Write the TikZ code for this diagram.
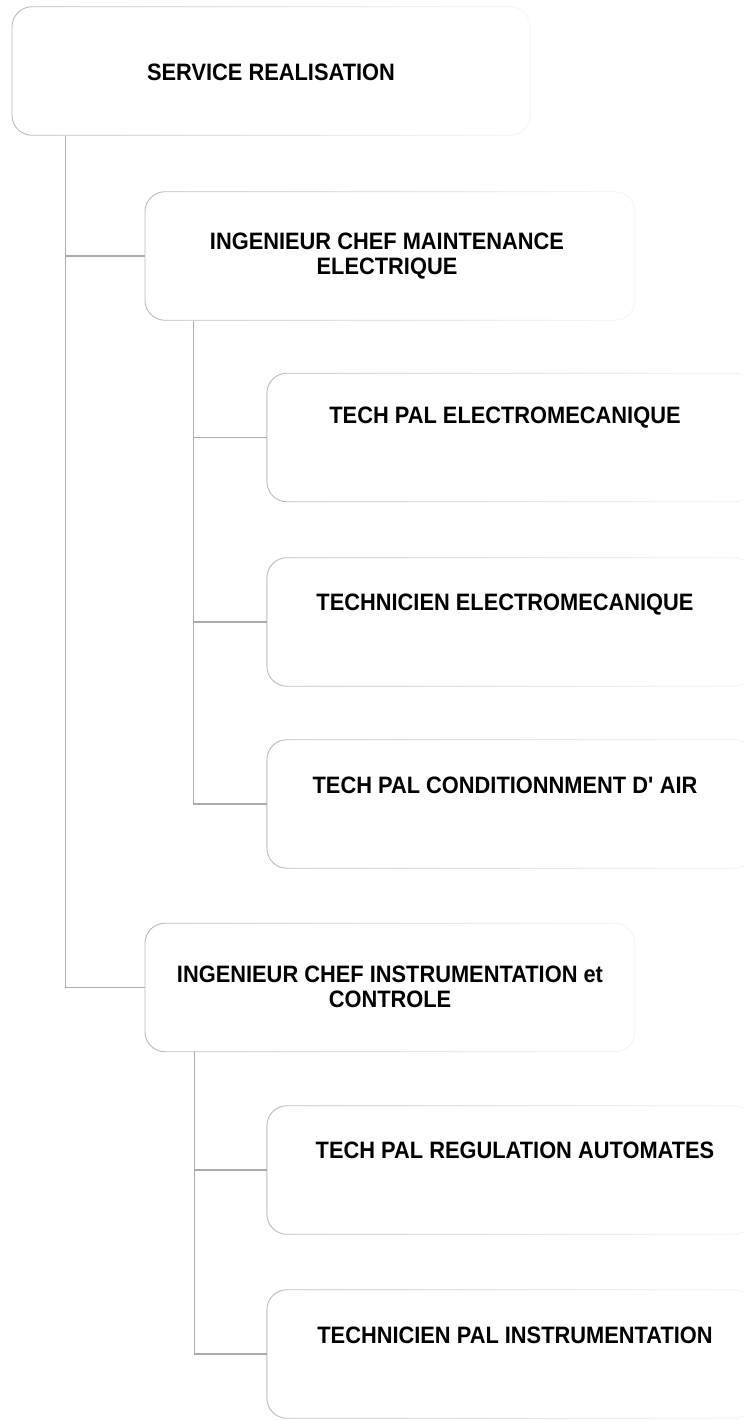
\documentclass[tikz,border=0pt]{standalone}
\usepackage{fontspec}
\setmainfont[FakeStretch=0.92]{Liberation Sans}
\usepackage{tikz}
\usetikzlibrary{positioning,calc,fadings}
\tikzfading[name=boxfade,left color=transparent!0,middle color=transparent!25,right color=transparent!85]

\begin{document}
\begin{tikzpicture}[
  x=0.2mm, y=-0.2mm,
  box/.style={
    rectangle,
    rounded corners=4mm,
    draw=gray!55,
    line width=.5pt,
    inner sep=0pt,
    minimum height=25.7mm,
    path fading=boxfade
  },
  lbl/.style={
    font=\bfseries\fontsize{13.5}{14.5}\selectfont,
    align=center,
    inner sep=0pt
  },
  link/.style={draw=gray!65,line width=.6pt}
]
  \useasboundingbox (0,0) rectangle (743,1420);

  % boxes
  \node[box,minimum width=103.6mm] (srv) at (271,71) {};
  \node[box,minimum width=98mm] (icm) at (390,256) {};
  \node[box,minimum width=97.6mm] (tpe) at (511,437.5) {};
  \node[box,minimum width=97.6mm] (tce) at (511,622) {};
  \node[box,minimum width=97.6mm] (tpa) at (511,804) {};
  \node[box,minimum width=98mm] (ici) at (390,987.5) {};
  \node[box,minimum width=97.6mm] (tpr) at (511,1170) {};
  \node[box,minimum width=97.6mm] (tpi) at (511,1354) {};

  % texts
  \node[lbl] (srv-t) at (271,72) {SERVICE REALISATION};
  \node[lbl] (icm-t) at (387,256) {INGENIEUR CHEF MAINTENANCE\\ELECTRIQUE};
  \node[lbl] (tpe-t) at (505,418) {TECH PAL ELECTROMECANIQUE};
  \node[lbl] (tce-t) at (505,605) {TECHNICIEN ELECTROMECANIQUE};
  \node[lbl] (tpa-t) at (505,785) {TECH PAL CONDITIONNMENT D\textquotesingle\ AIR};
  \node[lbl] (ici-t) at (390,987) {INGENIEUR CHEF INSTRUMENTATION et\\CONTROLE};
  \node[lbl] (tpr-t) at (515,1150) {TECH PAL REGULATION AUTOMATES};
  \node[lbl] (tpi-t) at (515,1335) {TECHNICIEN PAL INSTRUMENTATION};

  % connectors
  \coordinate (t0) at ([xshift=10.8mm]srv.south west);
  \coordinate (t1) at ([xshift=9.8mm]icm.south west);
  \coordinate (t2) at ([xshift=10mm]ici.south west);

  \draw[link] (t0) |- (ici.west);
  \draw[link] (t0 |- icm.west) -- (icm.west);

  \draw[link] (t1) |- (tpa.west);
  \draw[link] (t1 |- tpe.west) -- (tpe.west);
  \draw[link] (t1 |- tce.west) -- (tce.west);

  \draw[link] (t2) |- (tpi.west);
  \draw[link] (t2 |- tpr.west) -- (tpr.west);
\end{tikzpicture}
\end{document}
